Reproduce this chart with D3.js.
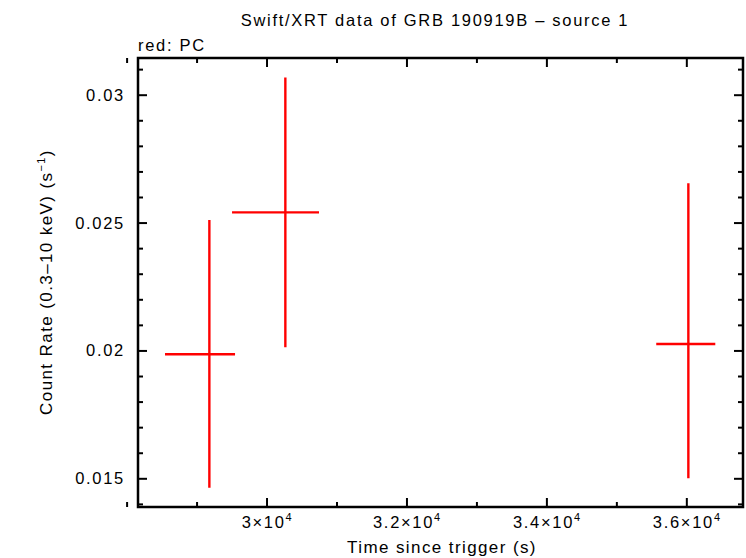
<!DOCTYPE html>
<html>
<head>
<meta charset="utf-8">
<script src="https://cdn.jsdelivr.net/npm/d3@7"></script>
<style>
  body { margin: 0; background: #fff; }
  svg { font-family: "Liberation Sans", Arial, sans-serif; }
  svg text { letter-spacing: 1.7px; }
  svg text.big { letter-spacing: 1.4px; }
  .axis path { display: none; }
  .axis line { stroke: #000; stroke-width: 2; }
</style>
</head>
<body>
<div id="chart"></div>
<script>
// light curve bins (PC mode)
var time = [29183, 30269, 36029];
var timeLo = [28549, 29507, 35570];
var timeHi = [29550, 30750, 36414];
var rate = [0.01985, 0.0254, 0.02025];
var rateLo = [0.01463, 0.02012, 0.0150];
var rateHi = [0.0251, 0.03067, 0.02654];

var xMajor = [30000, 32000, 34000, 36000];
var xMinor = [28000, 29000, 31000, 33000, 35000];
var yMajor = [0.015, 0.02, 0.025, 0.03];
var yMinor = [0.014, 0.016, 0.017, 0.018, 0.019, 0.021, 0.022, 0.023, 0.024, 0.026, 0.027, 0.028, 0.029, 0.031];

var width = 746, height = 558;
var margin = {top: 58, right: 3, bottom: 51, left: 138};
var w = width - margin.left - margin.right;
var h = height - margin.top - margin.bottom;

var svg = d3.select('#chart').append('svg')
	.attr('width', width)
	.attr('height', height);

var x = d3.scaleLinear().domain([28163, 36810]).range([0, w]);
var y = d3.scaleLinear().domain([0.013878, 0.031435]).range([h, 0]);

var g = svg.append('g')
	.attr('transform', 'translate(' + margin.left + ',' + margin.top + ')');

// ticks on all four sides, pointing in
function ticks(axisFn, scale, vals, size, tr) {
	var a = axisFn(scale).tickValues(vals).tickSize(-size).tickFormat('');
	g.append('g').attr('class', 'axis').attr('transform', tr).call(a);
}
ticks(d3.axisBottom, x, xMajor, 9, 'translate(0,' + h + ')');
ticks(d3.axisBottom, x, xMinor, 5, 'translate(0,' + h + ')');
ticks(d3.axisTop, x, xMajor, 9, 'translate(0,0)');
ticks(d3.axisTop, x, xMinor, 5, 'translate(0,0)');
ticks(d3.axisLeft, y, yMajor, 9, 'translate(0,0)');
ticks(d3.axisLeft, y, yMinor, 5, 'translate(0,0)');
ticks(d3.axisRight, y, yMajor, 9, 'translate(' + w + ',0)');
ticks(d3.axisRight, y, yMinor, 5, 'translate(' + w + ',0)');

// frame
g.append('rect')
	.attr('width', w).attr('height', h)
	.attr('fill', 'none').attr('stroke', '#000').attr('stroke-width', 2.5);

// tick labels
g.selectAll('.ylab').data(yMajor).enter().append('text')
	.attr('class', 'ylab')
	.attr('x', -13)
	.attr('y', function(d) { return y(d); })
	.attr('dy', '0.36em')
	.attr('text-anchor', 'end')
	.attr('font-size', 16.5)
	.text(function(d) { return d; });

var xl = g.selectAll('.xlab').data(xMajor).enter().append('text')
	.attr('class', 'xlab')
	.attr('x', function(d) { return x(d) + 1; })
	.attr('y', h + 21)
	.attr('text-anchor', 'middle')
	.attr('font-size', 16.5);
xl.append('tspan').text(function(d) { return (d / 10000) + '\u00d710'; });
xl.append('tspan').attr('dy', -7).attr('font-size', 11).text('4');

// error bars
var pts = time.map(function(t, i) {
	return {t: t, lo: timeLo[i], hi: timeHi[i], r: rate[i], rlo: rateLo[i], rhi: rateHi[i]};
});
var bars = g.append('g').attr('stroke', '#ff0000').attr('stroke-width', 2.4);
bars.selectAll('.xerr').data(pts).enter().append('line')
	.attr('x1', function(d) { return x(d.lo); })
	.attr('x2', function(d) { return x(d.hi); })
	.attr('y1', function(d) { return y(d.r); })
	.attr('y2', function(d) { return y(d.r); });
bars.selectAll('.yerr').data(pts).enter().append('line')
	.attr('x1', function(d) { return x(d.t); })
	.attr('x2', function(d) { return x(d.t); })
	.attr('y1', function(d) { return y(d.rlo); })
	.attr('y2', function(d) { return y(d.rhi); });

// titles
svg.append('text')
	.attr('x', 435).attr('y', 26)
	.attr('text-anchor', 'middle')
	.attr('font-size', 16.5)
	.text('Swift/XRT data of GRB 190919B \u2013 source 1');

svg.append('text')
	.attr('x', 138).attr('y', 51)
	.attr('font-size', 16.5)
	.text('red: PC');

svg.append('text')
	.attr('class', 'big')
	.attr('x', 442).attr('y', 553)
	.attr('text-anchor', 'middle')
	.attr('font-size', 17)
	.text('Time since trigger (s)');

var yt = svg.append('text')
	.attr('class', 'big')
	.attr('transform', 'translate(52,282) rotate(-90)')
	.attr('text-anchor', 'middle')
	.attr('font-size', 17);
yt.append('tspan').text('Count Rate (0.3\u201310 keV) (s');
yt.append('tspan').attr('dy', -7).attr('font-size', 11).text('\u22121');
yt.append('tspan').attr('dy', 7).text(')');
</script>
</body>
</html>
